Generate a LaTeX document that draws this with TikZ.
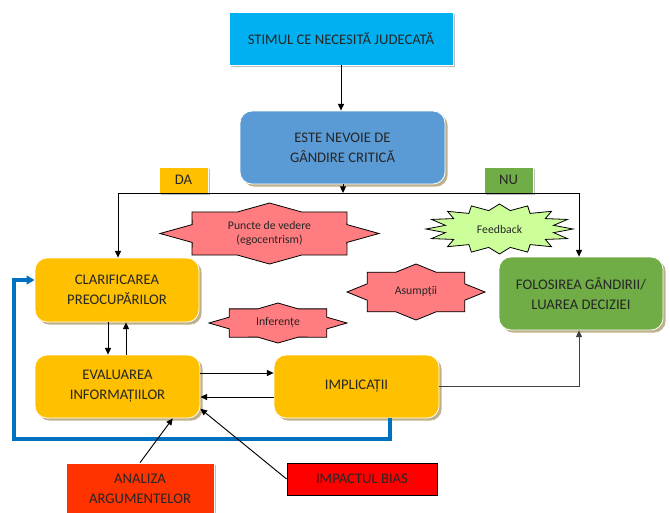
\documentclass[tikz,border=0pt]{standalone}
\usepackage{fontspec}
\setmainfont{Carlito}
\usetikzlibrary{arrows.meta,shadows,calc}
\definecolor{cstim}{HTML}{00B0F0}
\definecolor{cneed}{HTML}{5B9BD5}
\definecolor{cyel}{HTML}{FFC000}
\definecolor{cgreen}{HTML}{70AD47}
\definecolor{cpink}{HTML}{FF7C80}
\definecolor{cfeed}{HTML}{CCFF99}
\definecolor{canal}{HTML}{FF3300}
\definecolor{cbias}{HTML}{FF0000}
\definecolor{cblue}{HTML}{0070C0}
\definecolor{cshad}{HTML}{BEB18C}
\definecolor{ctxt}{HTML}{262626}
\newcommand\mystar[7]{%
  \pgfmathtruncatemacro\nn{2*#6-1}%
  \draw[#7] plot[samples at={0,...,\nn}, variable=\i]
    ({#1+(1-(1-#5)*mod(\i,2))*#3*cos(\i*180/#6)},
     {#2+(1-(1-#5)*mod(\i,2))*#4*sin(\i*180/#6)}) -- cycle;}
\begin{document}
\begin{tikzpicture}[x=0.75pt,y=-0.75pt,
  boxtext/.style={text=ctxt,font=\fontsize{11}{15}\selectfont,align=center,inner sep=0pt},
  flatbox/.style={boxtext,draw=white,line width=0.6pt,
     drop shadow={shadow xshift=1.5pt,shadow yshift=-1.5pt,fill=black!25,opacity=1}},
  roundbox/.style={boxtext,draw=white,line width=0.6pt,rounded corners=9pt,
     drop shadow={shadow xshift=2pt,shadow yshift=-2pt,fill=cshad,opacity=1}},
  tagbox/.style={boxtext,draw=white,line width=0.5pt,
     drop shadow={shadow xshift=1.2pt,shadow yshift=-1.2pt,fill=black!25,opacity=1}},
  startext/.style={text=ctxt,font=\fontsize{8.8}{11}\selectfont,align=center,inner sep=0pt},
  starline/.style={draw=black,line width=0.6pt},
  conn/.style={draw=black,line width=0.7pt,-{Triangle[length=5pt,width=4.5pt]}},
  plain/.style={draw=black,line width=0.7pt},
  blueline/.style={draw=cblue,line width=2.3pt,-{Triangle[length=6pt,width=6.5pt]}}]
\useasboundingbox (0,0) rectangle (670,512);

% boxes
\node[flatbox,fill=cstim,minimum width=168pt,minimum height=39.75pt] (stim) at (341,38.5) {STIMUL CE NECESITĂ JUDECATĂ};
\node[roundbox,fill=cneed,minimum width=153.75pt,minimum height=54.75pt] (need) at (342.5,147.5) {ESTE NEVOIE DE\\GÂNDIRE CRITICĂ};
\node[tagbox,fill=cyel,minimum width=36.75pt,minimum height=19.5pt] (da) at (183.5,180) {DA};
\node[tagbox,fill=cgreen,minimum width=36.75pt,minimum height=19.5pt] (nu) at (508.5,180) {NU};
\node[roundbox,fill=cyel,minimum width=123pt,minimum height=48pt] (clar) at (117,290) {CLARIFICAREA\\PREOCUPĂRILOR};
\node[roundbox,fill=cyel,minimum width=123.75pt,minimum height=47.25pt] (eval) at (117.5,386.5) {EVALUAREA\\INFORMAȚIILOR};
\node[roundbox,fill=cyel,minimum width=123.75pt,minimum height=47.25pt] (impl) at (356.5,386.5) {IMPLICAȚII};
\node[roundbox,fill=cgreen,minimum width=123pt,minimum height=54.75pt] (folos) at (581,293.5) {FOLOSIREA GÂNDIRII/\\LUAREA DECIZIEI};
\node[tagbox,fill=canal,minimum width=111pt,minimum height=38.25pt] (anal) at (140,488.5) {ANALIZA\\ARGUMENTELOR};
\node[boxtext,draw=black,line width=0.6pt,fill=cbias,minimum width=112.5pt,minimum height=24pt] (bias) at (362,479) {IMPACTUL BIAS};

% stars
\mystar{269.5}{233.5}{109.5}{30.5}{0.765}{8}{starline,fill=cpink}
\node[startext] (puncte) at (269.5,233.5) {Puncte de vedere\\(egocentrism)};
\mystar{499.5}{229}{73.5}{25}{0.75}{16}{starline,fill=cfeed}
\node[startext] (feed) at (499.5,229) {Feedback};
\mystar{416}{292}{69}{28}{0.765}{8}{starline,fill=cpink}
\node[startext] (asum) at (416,292) {Asumpții};
\mystar{278}{323}{69}{20}{0.765}{8}{starline,fill=cpink}
\node[startext] (infer) at (278,323) {Inferențe};

% helper coordinates
\coordinate (lineL) at (118,193);
\coordinate (lineR) at (579,193);
\coordinate (split) at (343,193);
\coordinate (cdown) at (108,0);
\coordinate (cup) at (126,0);
\coordinate (yfwd) at (0,373);
\coordinate (yback) at (0,397);
\coordinate (bx) at (390,0);
\coordinate (bl) at (14,439);
\coordinate (by) at (0,280);

% connectors
\draw[conn] (stim.south) -- (stim.south |- need.north);
\draw[plain] (lineL) -- (lineR);
\draw[conn] (need.south -| split) -- (split);
\draw[conn] (lineL) -- (lineL |- clar.north);
\draw[conn] (lineR) -- (lineR |- folos.north);
\draw[conn] (clar.south -| cdown) -- (eval.north -| cdown);
\draw[conn] (eval.north -| cup) -- (clar.south -| cup);
\draw[conn] (eval.east |- yfwd) -- (impl.west |- yfwd);
\draw[conn] (impl.west |- yback) -- (eval.east |- yback);
\draw[conn,draw=black!75] (impl.east) -| (lineR |- folos.south);
\draw[blueline] (impl.south -| bx) |- (bl) |- (clar.west |- by);
\draw[conn] (anal.north) -- (eval.-30);
\draw[conn] (bias.west) -- (eval.-15);
\end{tikzpicture}
\end{document}
